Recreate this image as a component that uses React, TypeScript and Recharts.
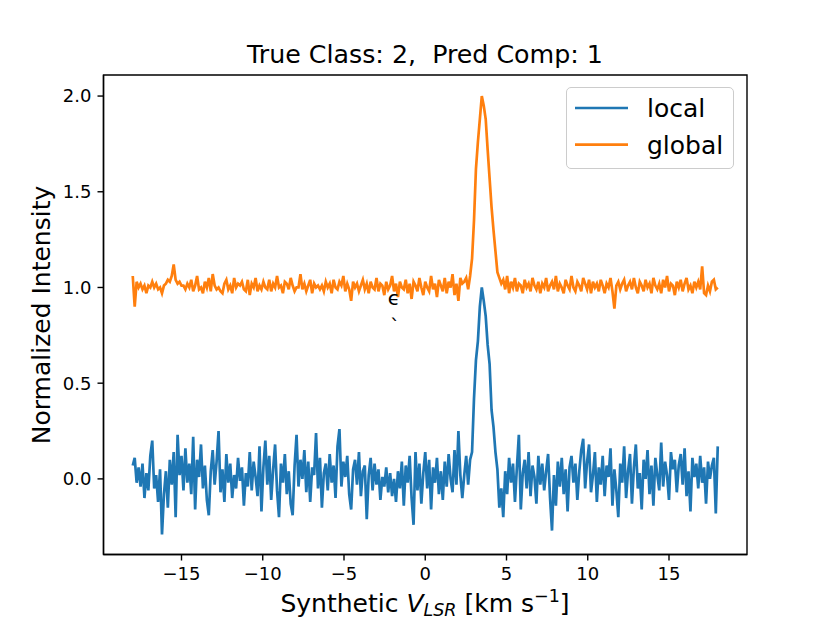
import { Line, LineChart, XAxis, YAxis, ReferenceArea } from 'recharts'

document.body.style.margin = '0'

const LOCAL_COLOR = '#1f77b4'
const GLOBAL_COLOR = '#ff7f0e'
const FONT = '"DejaVu Sans", sans-serif'

// spectral channels: 301 channels from -18 to 18 km/s
const V_START = -18
const V_STEP = 0.12

const X_DOMAIN = [-19.8, 19.8]
const Y_DOMAIN = [-0.395, 2.11]
const xTicks = [-15, -10, -5, 0, 5, 10, 15]
const yTicks = [0, 0.5, 1.0, 1.5, 2.0]

// local (noisy) component
const localIntensity = [
  0.07, 0.11, -0.02, 0.06, -0.04, 0.08, -0.10, 0.03, -0.06, 0.12,
  0.20, -0.05, 0.02, -0.12, 0.05, -0.29, -0.08, 0.04, -0.15, 0.10,
  -0.03, 0.14, -0.20, 0.23, 0.02, 0.12, -0.06, 0.16, -0.02, 0.08,
  -0.08, 0.22, -0.16, 0.10, 0.01, 0.18, -0.05, 0.07, -0.11, -0.19,
  0.04, 0.15, -0.03, 0.09, 0.25, -0.07, 0.05, -0.12, 0.13, -0.02,
  0.08, -0.10, 0.02, -0.05, 0.11, -0.01, 0.06, -0.14, 0.03, -0.04,
  0.14, -0.06, 0.09, 0.01, -0.09, 0.17, -0.17, 0.06, 0.20, -0.03,
  0.12, -0.11, 0.05, 0.18, -0.06, -0.20, 0.08, -0.02, 0.13, -0.08,
  0.04, -0.13, -0.19, 0.07, 0.23, -0.04, 0.10, 0.00, 0.15, -0.07,
  0.09, -0.12, 0.06, 0.02, 0.24, -0.05, 0.11, -0.15, 0.03, 0.08,
  -0.06, 0.13, -0.02, 0.07, -0.10, 0.17, 0.26, -0.04, 0.09, 0.01,
  0.12, -0.08, -0.16, 0.05, 0.10, -0.03, 0.14, -0.09, 0.04, 0.07,
  -0.21, 0.02, 0.11, -0.06, 0.08, -0.03, 0.05, -0.11, 0.01, -0.04,
  0.06, -0.07, 0.03, -0.09, 0.00, -0.12, 0.04, -0.05, 0.09, -0.14,
  0.07, -0.02, 0.12, -0.10, -0.24, 0.14, -0.06, 0.08, -0.13, 0.03,
  0.14, -0.05, 0.10, -0.16, 0.06, -0.02, 0.11, -0.08, 0.04, -0.11,
  0.09, -0.04, 0.13, 0.00, -0.07, 0.15, -0.03, 0.25, 0.02, -0.10,
  0.02, 0.12, -0.03, 0.10, 0.14, 0.42, 0.62, 0.72, 0.90, 1.00,
  0.93, 0.85, 0.70, 0.60, 0.36, 0.27, 0.14, 0.05, -0.15, -0.05,
  -0.20, 0.04, -0.08, 0.11, -0.02, 0.08, -0.12, 0.06, 0.23, -0.16,
  0.03, 0.10, -0.05, 0.14, -0.09, 0.07, 0.01, -0.13, 0.12, -0.03,
  0.08, -0.06, 0.04, 0.13, -0.10, -0.27, 0.02, -0.14, 0.09, -0.04,
  0.11, -0.08, 0.05, -0.17, 0.06, 0.12, -0.02, 0.08, -0.11, 0.04,
  0.15, 0.21, -0.05, 0.09, 0.18, -0.07, 0.02, 0.14, -0.12, 0.06,
  -0.03, 0.12, -0.09, 0.07, 0.01, 0.16, -0.14, 0.05, -0.06, -0.20,
  0.08, -0.02, 0.17, -0.10, 0.04, 0.13, -0.13, 0.06, 0.18, -0.05,
  0.03, -0.16, 0.10, 0.00, 0.15, -0.08, 0.07, -0.14, 0.11, 0.02,
  -0.06, 0.19, -0.04, 0.09, 0.02, -0.11, 0.14, 0.05, 0.10, -0.07,
  0.07, 0.13, -0.03, 0.16, -0.09, 0.04, -0.17, 0.11, 0.01, 0.08,
  -0.05, 0.12, -0.02, 0.06, -0.13, 0.09, 0.00, 0.07, 0.11, -0.18,
  0.17,
]

// global component, offset by one
const globalIntensity = [
  1.06, 0.90, 1.03, 1.00, 1.02, 0.99, 1.01, 0.97, 1.01, 1.00,
  1.03, 1.00, 1.02, 0.99, 1.00, 0.97, 1.01, 1.02, 1.04, 1.03,
  1.06, 1.12, 1.04, 1.02, 1.03, 1.01, 1.01, 0.99, 1.02, 1.00,
  1.04, 0.98, 1.01, 1.06, 0.99, 1.00, 0.97, 1.03, 1.00, 1.05,
  0.98, 1.07, 1.01, 0.99, 1.00, 0.98, 0.97, 1.02, 1.04, 0.99,
  1.01, 0.97, 1.05, 1.00, 1.02, 1.01, 1.03, 0.99, 0.98, 1.04,
  0.96, 1.02, 1.00, 1.05, 0.98, 1.01, 0.99, 1.03, 1.00, 0.99,
  1.04, 0.98, 1.02, 1.00, 1.06, 1.00, 1.01, 0.97, 1.03, 1.02,
  0.99, 1.05, 1.01, 0.98, 1.00, 1.00, 1.07, 0.99, 1.02, 0.98,
  1.01, 1.04, 0.97, 1.02, 1.00, 1.01, 0.99, 1.01, 0.98, 1.03,
  1.00, 1.02, 0.97, 1.04, 1.00, 0.99, 1.03, 1.01, 1.06, 0.98,
  1.02, 0.99, 0.93, 1.03, 1.00, 1.02, 0.98, 1.01, 1.04, 0.99,
  1.02, 0.97, 1.03, 1.00, 0.99, 1.05, 0.98, 1.02, 1.01, 0.96,
  1.03, 0.99, 1.01, 1.06, 0.98, 1.02, 0.95, 1.03, 1.00, 0.99,
  1.04, 0.97, 1.02, 0.94, 1.03, 1.01, 0.98, 1.05, 1.00, 0.96,
  1.03, 1.00, 0.98, 1.06, 0.99, 1.02, 0.95, 1.04, 1.01, 0.98,
  1.05, 0.97, 1.03, 1.00, 1.07, 0.96, 1.02, 0.93, 1.05, 1.02,
  1.03, 1.05, 0.99, 1.06, 1.15, 1.35, 1.62, 1.76, 1.88, 2.00,
  1.95, 1.88, 1.72, 1.57, 1.42, 1.30, 1.19, 1.08, 1.05, 1.02,
  1.04, 0.99, 1.06, 0.97, 1.03, 1.00, 1.05, 0.98, 1.02, 1.01,
  0.97, 1.04, 1.00, 1.02, 0.98, 1.05, 1.01, 0.99, 1.03, 0.97,
  1.02, 1.00, 1.05, 0.98, 1.01, 1.03, 0.99, 1.06, 0.98, 1.02,
  1.00, 0.97, 1.04, 1.01, 0.99, 1.06, 1.00, 0.98, 1.03, 1.01,
  0.98, 1.05, 1.02, 0.99, 1.04, 0.97, 1.03, 1.00, 1.02, 0.98,
  1.04, 1.01, 0.97, 1.02, 1.00, 1.05, 0.98, 0.89, 1.01, 1.03,
  0.99, 1.02, 1.04, 0.98, 1.01, 1.03, 0.99, 1.05, 1.00, 0.97,
  1.03, 1.01, 0.98, 1.04, 1.00, 1.02, 0.97, 1.05, 1.01, 0.99,
  1.02, 0.97, 1.04, 1.00, 1.06, 0.98, 1.02, 1.01, 0.96, 1.03,
  1.00, 1.04, 0.98, 1.02, 1.05, 0.99, 1.01, 0.97, 1.03, 1.00,
  1.03, 0.99, 1.11, 0.97, 0.96, 1.01, 0.98, 1.03, 1.04, 0.99,
  1.00,
]

const data = localIntensity.map((l, i) => ({
  v: V_START + i * V_STEP,
  local: l,
  global: globalIntensity[i],
}))

const legendItems = [
  { name: 'local', color: LOCAL_COLOR },
  { name: 'global', color: GLOBAL_COLOR },
]

function LegendBox() {
  return (
    <div
      style={{
        position: 'absolute',
        left: 566,
        top: 87,
        width: 168,
        height: 82,
        boxSizing: 'border-box',
        border: '1px solid #cccccc',
        borderRadius: 5,
        background: 'rgba(255,255,255,0.8)',
      }}
    >
      <svg width={166} height={80} style={{ display: 'block' }}>
        {legendItems.map((item, i) => (
          <g key={item.name}>
            <line x1={8} x2={61} y1={20 + i * 36.7} y2={20 + i * 36.7} stroke={item.color} strokeWidth={2.7} />
            <text x={80} y={29 + i * 36.7} fontSize={25} fontFamily={FONT} fill='#000'>
              {item.name}
            </text>
          </g>
        ))}
      </svg>
    </div>
  )
}

const fmtX = (v: number) => (v < 0 ? '\u2212' + Math.abs(v) : String(v))
const fmtY = (v: number) => v.toFixed(1)

const tickStyle = { fontSize: 18, fontFamily: FONT, fill: '#000' }
const spine = { stroke: '#000', strokeWidth: 1.4 }

export default function App() {
  return (
    <div style={{ position: 'relative', width: 830, height: 623, background: '#fff' }}>
      <LineChart width={830} height={623} data={data} margin={{ top: 75, right: 83, bottom: 0, left: 0 }}>
        <XAxis
          dataKey='v'
          type='number'
          domain={X_DOMAIN}
          ticks={xTicks}
          tickFormatter={fmtX}
          allowDataOverflow
          height={68.5}
          tick={tickStyle}
          tickSize={6}
          tickMargin={7}
          axisLine={spine}
          tickLine={spine}
          label={{
            content: () => (
              <text x={425} y={612} textAnchor='middle' fontSize={25} fontFamily={FONT} fill='#000'>
                Synthetic{' '}
                <tspan fontStyle='italic'>V</tspan>
                <tspan fontStyle='italic' fontSize={17.5} dy={4}>LSR</tspan>
                <tspan dy={-4}> [km s</tspan>
                <tspan fontSize={17.5} dy={-10}>{'\u22121'}</tspan>
                <tspan dy={10}>]</tspan>
              </text>
            ),
          }}
        />
        <YAxis
          type='number'
          domain={Y_DOMAIN}
          ticks={yTicks}
          tickFormatter={fmtY}
          allowDataOverflow
          width={103.5}
          tick={tickStyle}
          tickSize={6}
          tickMargin={6}
          axisLine={spine}
          tickLine={spine}
          label={{
            content: () => (
              <text
                x={50}
                y={315}
                transform='rotate(-90, 50, 315)'
                textAnchor='middle'
                fontSize={25}
                fontFamily={FONT}
                fill='#000'
              >
                Normalized Intensity
              </text>
            ),
          }}
        />
        <Line
          type='linear'
          dataKey='local'
          name='local'
          stroke={LOCAL_COLOR}
          strokeWidth={2.7}
          dot={false}
          isAnimationActive={false}
        />
        <Line
          type='linear'
          dataKey='global'
          name='global'
          stroke={GLOBAL_COLOR}
          strokeWidth={2.7}
          dot={false}
          isAnimationActive={false}
        />
        <ReferenceArea
          x1={X_DOMAIN[0]}
          x2={X_DOMAIN[1]}
          y1={Y_DOMAIN[0]}
          y2={Y_DOMAIN[1]}
          fill='none'
          fillOpacity={0}
          stroke='#000'
          strokeWidth={1.4}
          ifOverflow='visible'
        />
      </LineChart>
      <LegendBox />
      <svg
        width={830}
        height={623}
        style={{ position: 'absolute', left: 0, top: 0, pointerEvents: 'none' }}
      >
        <text x={425} y={63} textAnchor='middle' fontSize={25.3} fontFamily={FONT} fill='#000'>
          True Class: 2,{'\u00a0\u00a0'}Pred Comp: 1
        </text>
        <text x={394} y={305} textAnchor='middle' fontSize={20} fontFamily={FONT} fill='#000'>
          ϵ
        </text>
        <text x={395} y={333} textAnchor='middle' fontSize={20} fontFamily={FONT} fill='#000'>
          `
        </text>
      </svg>
    </div>
  )
}
